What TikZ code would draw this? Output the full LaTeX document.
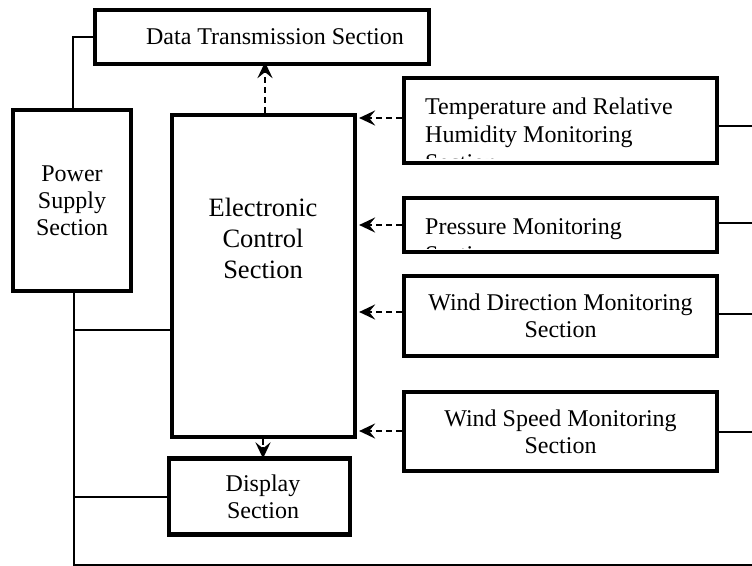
\documentclass[tikz,border=0pt]{standalone}
\usepackage{fontspec}
\setmainfont{Liberation Serif}
\usetikzlibrary{arrows.meta}
\begin{document}
\begin{tikzpicture}[x=1pt,y=-1pt,
  box/.style={draw, line width=4.2pt, inner sep=0pt, align=center,
    font=\fontsize{24}{28}\selectfont},
  wire/.style={line width=2.6pt},
  dasharrow/.style={line width=2.8pt, dash pattern=on 6pt off 4pt,
    -{Stealth[length=16pt,width=15pt,inset=6pt]}},
  txt/.style={font=\fontsize{24}{28}\selectfont, inner sep=0pt}]
\useasboundingbox (0,0) rectangle (752,565);
% boxes
\node[box, minimum width=334pt, minimum height=54pt] (dts) at (262,37)
  {\hspace*{26pt}Data Transmission Section};
\node[box, minimum width=118pt, minimum height=181pt] (pss) at (72,200.5)
  {Power\\[-1pt]Supply\\[-1pt]Section};
\node[box, minimum width=183pt, minimum height=322pt] (ecs) at (263.5,276) {};
\node[txt, align=center, font=\fontsize{26.5}{31}\selectfont] (ecst) at (263,238)
  {Electronic\\Control\\Section};
\node[box, minimum width=313pt, minimum height=85pt] (th) at (560.5,120.5) {};
\node[box, minimum width=313pt, minimum height=54pt] (pr) at (560.5,225) {};
\node[box, minimum width=313pt, minimum height=80pt] (wd) at (560.5,316)
  {Wind Direction Monitoring\\[-1pt]Section};
\node[box, minimum width=313pt, minimum height=79pt] (ws) at (560.5,431.5)
  {Wind Speed Monitoring\\[-1pt]Section};
\node[box, minimum width=181pt, minimum height=76pt] (dsp) at (259.5,496.5)
  {\hspace*{7pt}Display\\[-1pt]\hspace*{7pt}Section};
% clipped texts
\begin{scope}
  \clip (406,80) rectangle (715,158);
  \node[txt, anchor=base west, align=left] (tht) at (425,170)
    {Temperature and Relative\\Humidity Monitoring\\Section};
\end{scope}
\begin{scope}
  \clip (406,200) rectangle (715,248);
  \node[txt, anchor=base west, align=left] (prt) at (425,262)
    {Pressure Monitoring\\Section};
\end{scope}
% power wiring
\coordinate (bb) at (74,565);
\coordinate (be) at (752,565);
\draw[wire] (pss.north -| 73,0) |- (dts.west);
\draw[wire] (pss.south -| bb) -- (bb) -- (be);
\draw[wire] (74,330) coordinate (j1) -- (j1 -| ecs.west);
\draw[wire] (74,497) coordinate (j2) -- (j2 -| dsp.west);
% right side wires
\coordinate (r1) at (752,126);
\coordinate (r2) at (752,223);
\coordinate (r3) at (752,314);
\coordinate (r4) at (752,432);
\draw[wire] (r1 -| th.east) -- (r1);
\draw[wire] (r2 -| pr.east) -- (r2);
\draw[wire] (r3 -| wd.east) -- (r3);
\draw[wire] (r4 -| ws.east) -- (r4);
% dashed arrows
\coordinate (a0) at (265,0);
\draw[dasharrow] (a0 |- ecs.north) -- ([yshift=4pt]a0 |- dts.south);
\draw[dasharrow] ([yshift=2.5pt]th.west) -- ([yshift=2.5pt,xshift=2pt]th.west -| ecs.east);
\draw[dasharrow] (pr.west) -- ([xshift=2pt]pr.west -| ecs.east);
\draw[dasharrow] ([yshift=4pt]wd.west) -- ([yshift=4pt,xshift=2pt]wd.west -| ecs.east);
\draw[dasharrow] ([yshift=0.5pt]ws.west) -- ([yshift=0.5pt,xshift=2pt]ws.west -| ecs.east);
\coordinate (a1) at (263,0);
\draw[dasharrow, dash pattern=on 6pt off 2pt] (a1 |- ecs.south) -- ([yshift=-2pt]a1 |- dsp.north);
\end{tikzpicture}
\end{document}
